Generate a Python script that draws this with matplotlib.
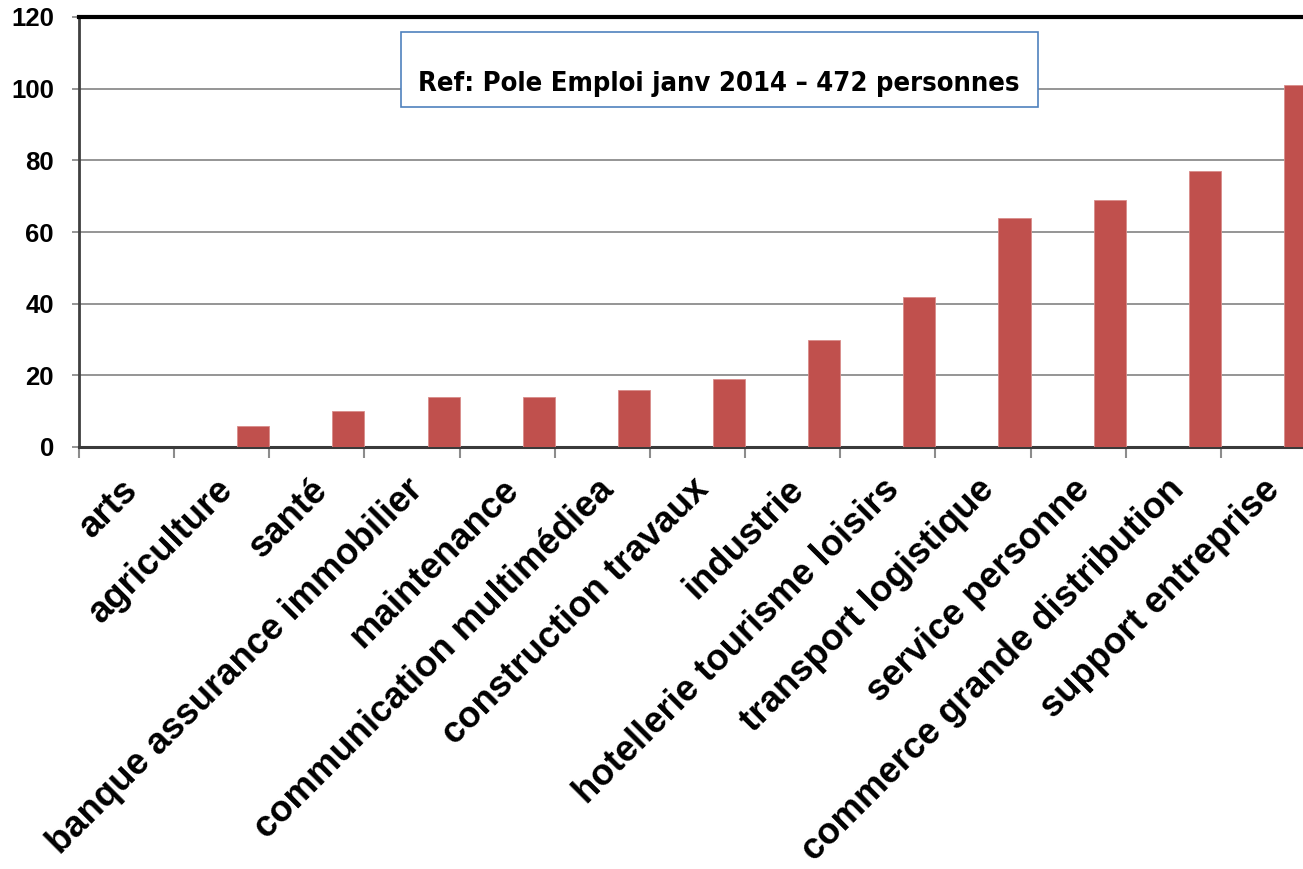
import matplotlib
matplotlib.use("Agg")
import matplotlib.pyplot as plt
import matplotlib.transforms as mtransforms
from matplotlib.patches import Rectangle
import numpy as np

categories = ["arts", "agriculture", "santé", "banque assurance immobilier",
              "maintenance", "communication multimédiea", "construction travaux",
              "industrie", "hotellerie tourisme loisirs", "transport logistique",
              "service personne", "commerce grande distribution", "support entreprise"]
values = [0, 6, 10, 14, 14, 16, 19, 30, 42, 64, 69, 77, 101]
yticks = [0, 20, 40, 60, 80, 100, 120]
title_text = "Ref: Pole Emploi janv 2014 – 472 personnes"

W, H = 1303, 869
fig = plt.figure(figsize=(W / 100, H / 100), dpi=100)
ax = fig.add_axes([79 / W, 422 / H, 1237 / W, 430 / H])

x = np.arange(len(categories))
bw = 0.337
ax.bar(x + 0.5, values, width=-bw, align="edge", color="#C0504D",
       edgecolor="#D98C8A", linewidth=0.6, zorder=3)

ax.set_xlim(-0.5, len(categories) - 0.5)
ax.set_ylim(0, 120)
ax.set_yticks(yticks)
ax.set_yticklabels([str(v) for v in yticks], fontsize=18.5, fontweight="bold",
                   family=["Liberation Sans", "DejaVu Sans"])
ax.yaxis.grid(True, color="#8c8c8c", linewidth=1.3, zorder=0)
ax.set_axisbelow(True)
ax.tick_params(axis="y", length=5, width=1.3, color="#8c8c8c", pad=13)

ax.set_xticks(x)
ax.set_xticks(np.arange(len(categories) + 1) - 0.5, minor=True)
ax.tick_params(axis="x", which="major", length=0, pad=27)
ax.tick_params(axis="x", which="minor", length=8, width=1.5, color="#8c8c8c")
ax.set_xticklabels(categories, rotation=45, ha="right", va="center",
                   rotation_mode="anchor", fontsize=26.3, fontweight="bold",
                   family=["Liberation Sans", "DejaVu Sans"])
offset = mtransforms.ScaledTranslation(6 / 100, 0, fig.dpi_scale_trans)
for lab in ax.get_xticklabels():
    lab.set_transform(lab.get_transform() + offset)

ax.spines["right"].set_visible(False)
ax.spines["top"].set_color("black")
ax.spines["top"].set_linewidth(3)
ax.spines["left"].set_color("#404040")
ax.spines["left"].set_linewidth(2)
ax.spines["bottom"].set_color("#3a3a3a")
ax.spines["bottom"].set_linewidth(2.2)
ax.spines["top"].set_zorder(5)

rect = Rectangle((401 / W, (H - 107) / H), 637 / W, 75 / H,
                 transform=fig.transFigure, facecolor="white",
                 edgecolor="#4F81BD", linewidth=1.2, zorder=10)
fig.patches.append(rect)
t = fig.text(719 / W, (H - 91) / H, title_text, ha="center", va="baseline",
             fontsize=25, fontweight="bold", fontstretch="condensed",
             family=["DejaVu Sans", "Liberation Sans"],
             zorder=11)
r = fig.canvas.get_renderer()
wpx = t.get_window_extent(r).width
t.set_fontsize(25 * 605 / wpx)

fig.savefig("out.png", dpi=100)
